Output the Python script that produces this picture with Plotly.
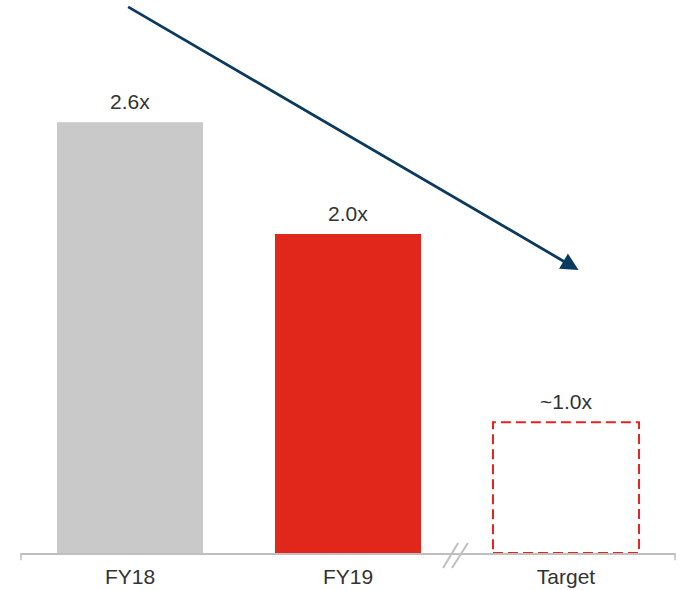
import plotly.graph_objects as go

categories = ["FY18", "FY19", "Target"]
values = [2.70, 2.00, 0.82]
labels = ["2.6x", "2.0x", "~1.0x"]
bar_colors = ["#C9C9C9", "#E1261C", "rgba(0,0,0,0)"]

BAR_W = 0.67
RED = "#E1261C"
GRAY_AXIS = "#BFBFBF"
TXT = "#333333"
FONT = "Liberation Sans, Arial, sans-serif"

fig = go.Figure()
fig.add_trace(go.Bar(
    x=categories, y=values, width=BAR_W,
    marker=dict(color=bar_colors, line=dict(width=0)),
    hoverinfo="skip",
))

# value labels
for c, v, t in zip(categories, values, labels):
    fig.add_annotation(x=c, y=v, text=t, showarrow=False, yanchor="bottom",
                       yshift=7, font=dict(family=FONT, size=21, color=TXT))

# dashed target box
ti = categories.index("Target")
fig.add_shape(type="rect", xref="x", yref="y",
              x0=ti - BAR_W / 2, x1=ti + BAR_W / 2, y0=0, y1=values[ti],
              line=dict(color=RED, width=2, dash="10px,5px"),
              fillcolor="rgba(0,0,0,0)")

# axis break marks between FY19 and Target
brk = (categories.index("FY19") + ti) / 2
for dx0, dx1 in [(-0.064, 0.005), (-0.023, 0.050)]:
    fig.add_shape(type="line", xref="x", yref="paper",
                  x0=brk + dx0, x1=brk + dx1, y0=-0.027, y1=0.018,
                  line=dict(color=GRAY_AXIS, width=2))

# end ticks of the category axis
for xp in (0, 1):
    fig.add_shape(type="line", xref="paper", yref="paper", x0=xp, x1=xp,
                  y0=0, y1=-0.013, line=dict(color=GRAY_AXIS, width=1.5))

# trend arrow
fig.add_annotation(xref="paper", yref="paper", x=0.8526, y=0.5118,
                   ax=-452, ay=-264, axref="pixel", ayref="pixel",
                   showarrow=True, arrowhead=2, arrowsize=1.25, arrowwidth=2.8,
                   arrowcolor="#0B3A60", text="", standoff=0)

fig.update_layout(
    width=681, height=590,
    margin=dict(l=21, r=5.5, t=0, b=37),
    paper_bgcolor="white", plot_bgcolor="white",
    showlegend=False,
    bargap=1 - BAR_W,
    xaxis=dict(showline=True, linecolor=GRAY_AXIS, linewidth=1.5,
               ticks="outside", ticklen=4, tickcolor="rgba(0,0,0,0)",
               showgrid=False, zeroline=False,
               tickfont=dict(family=FONT, size=21, color=TXT)),
    yaxis=dict(range=[0, 553 / 159.5], visible=False, showgrid=False,
               zeroline=False),
)

fig.write_html(
    "out.html",
    config={"displayModeBar": False},
    post_script="document.body.style.margin='0';document.body.style.padding='0';",
)
